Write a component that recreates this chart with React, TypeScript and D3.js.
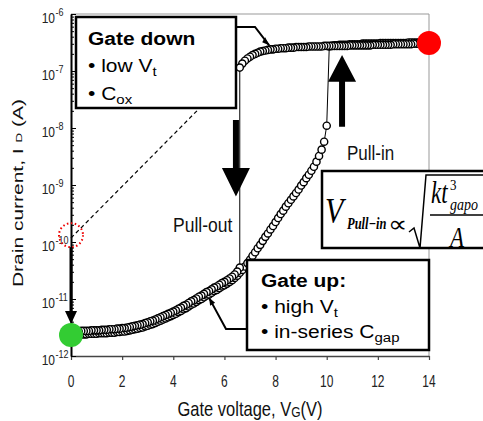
import React, { useRef, useEffect } from 'react';
import * as d3 from 'd3';

const W = 483;
const H = 421;
const SANS = 'Liberation Sans, Arial, sans-serif';
const SERIF = 'Liberation Serif, Times New Roman, serif';

// axes
const vTicks = [0, 2, 4, 6, 8, 10, 12, 14];
const decades = [-6, -7, -8, -9, -10, -11, -12];

// sweeps are measured with a 0.1 V gate step; values are log10(I_D / A)
const STEP = 0.1;
// up sweep, gate up, V = 0.0 .. 10.0
const upLow = [
  -11.63, -11.63, -11.63, -11.62, -11.62, -11.62, -11.62, -11.61, -11.61, -11.61,
  -11.61, -11.60, -11.60, -11.60, -11.60, -11.59, -11.59, -11.59, -11.58, -11.58,
  -11.57, -11.57, -11.56, -11.55, -11.54, -11.53, -11.52, -11.51, -11.50, -11.48,
  -11.47, -11.45, -11.44, -11.42, -11.40, -11.38, -11.36, -11.34, -11.32, -11.30,
  -11.28, -11.26, -11.23, -11.21, -11.18, -11.16, -11.13, -11.10, -11.08, -11.05,
  -11.02, -11.00, -10.97, -10.94, -10.92, -10.89, -10.86, -10.84, -10.81, -10.78,
  -10.76, -10.73, -10.70, -10.67, -10.63, -10.59, -10.54, -10.49, -10.43, -10.37,
  -10.31, -10.24, -10.18, -10.11, -10.05, -9.98, -9.91, -9.85, -9.78, -9.72,
  -9.65, -9.58, -9.51, -9.45, -9.38, -9.32, -9.26, -9.20, -9.14, -9.08,
  -9.01, -8.95, -8.88, -8.82, -8.75, -8.68, -8.59, -8.49, -8.38, -8.24,
  -7.96,
];
// up sweep after pull-in, V = 10.1 .. 14.0
const upHigh = [
  -6.57, -6.56, -6.55, -6.55, -6.54, -6.54, -6.54, -6.54, -6.53, -6.53,
  -6.53, -6.53, -6.53, -6.52, -6.52, -6.52, -6.52, -6.52, -6.52, -6.52,
  -6.51, -6.51, -6.51, -6.51, -6.51, -6.51, -6.51, -6.51, -6.51, -6.51,
  -6.51, -6.50, -6.50, -6.50, -6.50, -6.50, -6.50, -6.50, -6.50, -6.50,
];
// down sweep, gate down, V = 14.0 .. 6.6
const downHigh = [
  -6.52, -6.52, -6.52, -6.52, -6.52, -6.52, -6.52, -6.53, -6.53, -6.53,
  -6.53, -6.53, -6.53, -6.53, -6.53, -6.54, -6.54, -6.54, -6.54, -6.54,
  -6.54, -6.54, -6.54, -6.55, -6.55, -6.55, -6.55, -6.55, -6.55, -6.55,
  -6.55, -6.55, -6.56, -6.56, -6.56, -6.56, -6.56, -6.56, -6.56, -6.56,
  -6.56, -6.56, -6.57, -6.57, -6.57, -6.57, -6.57, -6.57, -6.58, -6.58,
  -6.58, -6.58, -6.58, -6.59, -6.59, -6.59, -6.60, -6.60, -6.60, -6.61,
  -6.61, -6.62, -6.62, -6.63, -6.64, -6.65, -6.66, -6.68, -6.70, -6.72,
  -6.75, -6.78, -6.82, -6.87, -6.94,
];
// down sweep after pull-out, V = 6.6 .. 0.0
const downLow = [
  -10.45, -10.52, -10.57, -10.61, -10.64, -10.67, -10.70,
  -10.72, -10.75, -10.78, -10.80, -10.83, -10.86, -10.88, -10.91, -10.94, -10.96,
  -10.99, -11.02, -11.04, -11.07, -11.10, -11.12, -11.15, -11.17, -11.20, -11.22,
  -11.24, -11.26, -11.28, -11.30, -11.32, -11.34, -11.36, -11.38, -11.39, -11.41,
  -11.42, -11.44, -11.45, -11.46, -11.47, -11.48, -11.49, -11.50, -11.51, -11.51,
  -11.52, -11.52, -11.53, -11.53, -11.53, -11.54, -11.54, -11.54, -11.55, -11.55,
  -11.55, -11.55, -11.56, -11.56, -11.56, -11.56, -11.57, -11.57, -11.57, -11.57,
];
// dashed extrapolation of the gate-down subthreshold current back to 0 V
const extrapV = [0, 6.6];
const extrapLogI = [-9.93, -6.94];
// marked states
const onState = { v: 14, logI: -6.51 };
const offState = { v: 0, logI: -11.63 };
const extrapState = { v: 0, logI: -9.88 };

type Pt = { v: number; i: number };
const sweep = (vals: number[], v0: number, dir: number): Pt[] =>
  vals.map((l, k) => ({ v: +(v0 + dir * k * STEP).toFixed(2), i: Math.pow(10, l) }));

const upSweep = [...sweep(upLow, 0, 1), ...sweep(upHigh, 10.1, 1)];
const downSweep = [...sweep(downHigh, 14, -1), ...sweep(downLow, 6.6, -1)];

function Txt({ x, y, sx = 1, sy = 1, rot = 0, children, ...rest }: any) {
  return (
    <text transform={`translate(${x},${y}) rotate(${rot}) scale(${sx},${sy})`} {...rest}>
      {children}
    </text>
  );
}

export default function App() {
  const xAxisRef = useRef<SVGGElement>(null);
  const yAxisRef = useRef<SVGGElement>(null);
  const yMinorRef = useRef<SVGGElement>(null);

  const x = d3.scaleLinear().domain([0, 14]).range([71, 429]);
  const y = d3.scaleLog().domain([1e-12, 1e-6]).range([356, 14]);
  const Y = (l: number) => y(Math.pow(10, l));

  const line = d3.line<Pt>().x(d => x(d.v)).y(d => y(d.i));

  useEffect(() => {
    const xa = d3.select(xAxisRef.current!);
    xa.call(d3.axisBottom(x).tickValues(vTicks).tickSize(4).tickSizeOuter(0).tickFormat(() => ''));
    xa.select('.domain').attr('stroke', '#444').attr('stroke-width', 1.5);
    xa.selectAll('.tick line').attr('stroke', '#444').attr('stroke-width', 1.2);

    const majors = decades.map(d => Math.pow(10, d));
    const ya = d3.select(yAxisRef.current!);
    ya.call(d3.axisRight(y).tickValues(majors).tickSize(5).tickSizeOuter(0).tickFormat(() => ''));
    ya.select('.domain').attr('stroke', '#000').attr('stroke-width', 2);
    ya.selectAll('.tick line').attr('stroke', '#000').attr('stroke-width', 1);

    const minors: number[] = [];
    decades.slice(0, -1).forEach(d => {
      for (let m = 2; m <= 9; m++) minors.push(m * Math.pow(10, d - 1));
    });
    const ym = d3.select(yMinorRef.current!);
    ym.call(d3.axisRight(y).tickValues(minors).tickSize(3).tickSizeOuter(0).tickFormat(() => ''));
    ym.select('.domain').remove();
    ym.selectAll('.tick line').attr('stroke', '#000').attr('stroke-width', 1);
  }, []);

  const [x0, x1] = x.range();
  const [yb, yt] = y.range();

  return (
    <svg width={W} height={H} style={{ position: 'absolute', left: 0, top: 0, background: '#fff' }}>
      {/* plot frame */}
      <line x1={x0} x2={x1} y1={yt} y2={yt} stroke="#999" strokeWidth={1} />
      <line x1={x1} x2={x1} y1={yt} y2={yb} stroke="#999" strokeWidth={1} />

      <g ref={xAxisRef} transform={`translate(0,${yb})`} />
      <g ref={yMinorRef} transform={`translate(${x0},0)`} />
      <g ref={yAxisRef} transform={`translate(${x0},0)`} />

      {/* tick labels */}
      {vTicks.map(v => (
        <Txt key={v} x={x(v)} y={387} sy={1.33} textAnchor="middle" fontFamily={SANS} fontSize={12} fill="#222">
          {v}
        </Txt>
      ))}
      {decades.map(d => (
        <g key={d}>
          <Txt x={55} y={y(Math.pow(10, d)) + 9} sy={1.25} textAnchor="end" fontFamily={SANS} fontSize={12} fill="#222">
            10
          </Txt>
          <Txt x={55.5} y={y(Math.pow(10, d)) + 2} sy={1.25} fontFamily={SANS} fontSize={9} fill="#222">
            {d}
          </Txt>
        </g>
      ))}

      {/* axis titles */}
      <Txt x={250} y={416} sy={1.27} textAnchor="middle" fontFamily={SANS} fontSize={16.5} fill="#111">
        Gate voltage, V<tspan fontSize={12} dy={1}>G</tspan>
        <tspan dy={-1}>(V)</tspan>
      </Txt>
      <Txt x={23} y={193} rot={-90} sx={1.5} textAnchor="middle" fontFamily={SANS} fontSize={14} fill="#111">
        Drain current, I <tspan fontSize={9} dy={-1}>D</tspan>
        <tspan dy={1}> (A)</tspan>
      </Txt>

      {/* extrapolation */}
      <line
        x1={x(extrapV[0])} y1={Y(extrapLogI[0])} x2={x(extrapV[1])} y2={Y(extrapLogI[1])}
        stroke="#000" strokeWidth={1.2} strokeDasharray="4 3"
      />

      {/* sweeps */}
      <path d={line(upSweep)!} fill="none" stroke="#000" strokeWidth={1} />
      <path d={line(downSweep)!} fill="none" stroke="#000" strokeWidth={1} />
      {[upSweep, downSweep].map((s, k) => (
        <g key={k}>
          {s.map((d, j) => (
            <circle key={j} cx={x(d.v)} cy={y(d.i)} r={3.6} fill="#fff" stroke="#000" strokeWidth={1.4} />
          ))}
        </g>
      ))}

      {/* gate down box */}
      <rect x={76} y={17} width={160} height={91} fill="#fff" stroke="#000" strokeWidth={2.5} />
      <Txt x={88} y={45} sy={0.9} fontFamily={SANS} fontSize={21} fontWeight="bold">Gate down</Txt>
      <Txt x={88} y={72} sy={0.9} fontFamily={SANS} fontSize={21}>
        • low V<tspan fontSize={15} dy={4}>t</tspan>
      </Txt>
      <Txt x={88} y={100} sy={0.9} fontFamily={SANS} fontSize={21}>
        • C<tspan fontSize={15} dy={4}>ox</tspan>
      </Txt>
      <path d={`M236,27 H255 L${x(7.75)},${Y(-6.55)}`} fill="none" stroke="#000" strokeWidth={2} />
      <path d={`M${x(7.75)},${Y(-6.55)} l-7,-3 l3,-5 z`} fill="#000" />

      {/* gate up box */}
      <rect x={247} y={260} width={182} height={90} fill="#fff" stroke="#000" strokeWidth={2.5} />
      <Txt x={261} y={287} sy={0.9} fontFamily={SANS} fontSize={21} fontWeight="bold">Gate up:</Txt>
      <Txt x={261} y={313} sy={0.9} fontFamily={SANS} fontSize={21}>
        • high V<tspan fontSize={15} dy={4}>t</tspan>
      </Txt>
      <Txt x={261} y={338} sy={0.9} fontFamily={SANS} fontSize={21}>
        • in-series C<tspan fontSize={15} dy={4}>gap</tspan>
      </Txt>
      <path d={`M247,329 H226 L${x(5.4)},${Y(-10.98)}`} fill="none" stroke="#000" strokeWidth={2} />
      <path d={`M${x(5.4)},${Y(-10.98)} l1,8 l5,-3 z`} fill="#000" />

      {/* pull-out / pull-in arrows */}
      <path
        d={`M${x(6.45) - 3},${Y(-7.86)} V${Y(-8.7)} H${x(6.45) - 14} L${x(6.45)},${Y(-9.2)} L${x(6.45) + 14},${Y(-8.7)} H${x(6.45) + 3} V${Y(-7.86)} Z`}
        fill="#000"
      />
      <path
        d={`M${x(10.6) - 3},${Y(-7.98)} V${Y(-7.19)} H${x(10.6) - 14} L${x(10.6)},${Y(-6.72)} L${x(10.6) + 14},${Y(-7.19)} H${x(10.6) + 3} V${Y(-7.98)} Z`}
        fill="#000"
      />
      <Txt x={173} y={232} sy={1.2} fontFamily={SANS} fontSize={17.5} fill="#111">Pull-out</Txt>
      <Txt x={347} y={160} sy={1.2} fontFamily={SANS} fontSize={17} fill="#111">Pull-in</Txt>

      {/* formula */}
      <rect x={322} y={171} width={180} height={77} fill="#fff" stroke="#000" strokeWidth={2.5} />
      <Txt x={325} y={223} sy={1.2} fontFamily={SERIF} fontStyle="italic" fontSize={30}>V</Txt>
      <Txt x={347} y={229} sy={1.3} fontFamily={SERIF} fontStyle="italic" fontWeight="bold" fontSize={12.5}>
        Pull−in
      </Txt>
      <Txt x={388} y={232} sy={0.85} fontFamily={SERIF} fontSize={27}>∝</Txt>
      <path d="M409,232 L414,228 L420,248 L426,175 H490" fill="none" stroke="#000" strokeWidth={1.5} />
      <Txt x={431} y={203} sy={1.35} fontFamily={SERIF} fontStyle="italic" fontSize={23}>kt</Txt>
      <Txt x={450} y={190} sy={1.2} fontFamily={SERIF} fontSize={13}>3</Txt>
      <Txt x={450} y={210} sy={1.2} fontFamily={SERIF} fontStyle="italic" fontSize={14}>gapo</Txt>
      <line x1={430} x2={490} y1={215} y2={215} stroke="#000" strokeWidth={1.5} />
      <Txt x={450} y={247} sy={1.3} fontFamily={SERIF} fontStyle="italic" fontSize={23}>A</Txt>

      {/* states */}
      <circle
        cx={x(extrapState.v)} cy={Y(extrapState.logI)} r={12}
        fill="none" stroke="#e00" strokeWidth={2} strokeDasharray="1.5 2.5"
      />
      <line x1={x(0)} x2={x(0)} y1={Y(extrapState.logI) + 12} y2={Y(offState.logI) - 22} stroke="#000" strokeWidth={3} />
      <path
        d={`M${x(0) - 6},${Y(offState.logI) - 24} H${x(0) + 6} L${x(0)},${Y(offState.logI) - 11} Z`}
        fill="#000"
      />
      <circle cx={x(onState.v)} cy={Y(onState.logI)} r={12} fill="#ff0000" />
      <circle cx={x(offState.v)} cy={Y(offState.logI)} r={12} fill="#33cc33" />
    </svg>
  );
}
